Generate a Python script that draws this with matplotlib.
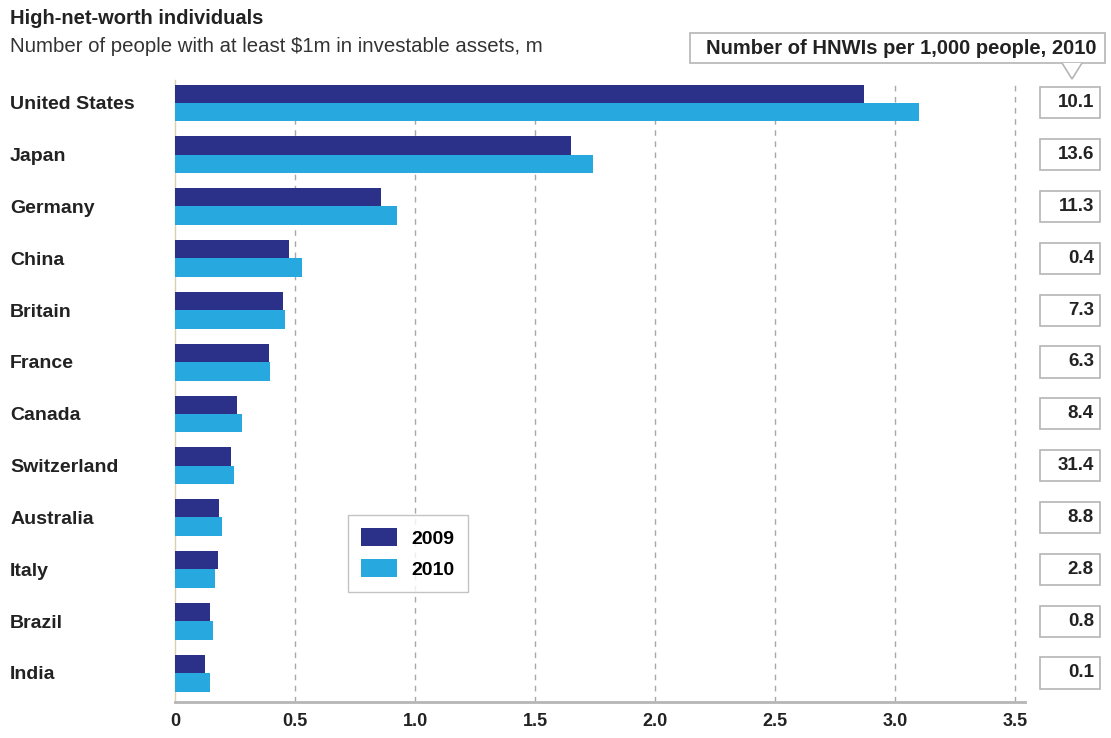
import numpy as np
import matplotlib
matplotlib.use("Agg")
import matplotlib.pyplot as plt
from matplotlib.patches import Rectangle, Polygon
from matplotlib.transforms import blended_transform_factory

plt.rcParams['font.family'] = ['Liberation Sans', 'DejaVu Sans']

countries = ['United States', 'Japan', 'Germany', 'China', 'Britain', 'France',
             'Canada', 'Switzerland', 'Australia', 'Italy', 'Brazil', 'India']
hnwi_2009 = [2.87, 1.65, 0.86, 0.475, 0.45, 0.39, 0.26, 0.233, 0.185, 0.18, 0.146, 0.125]
hnwi_2010 = [3.10, 1.74, 0.925, 0.53, 0.46, 0.395, 0.28, 0.246, 0.195, 0.168, 0.157, 0.146]
per_1000 = ['10.1', '13.6', '11.3', '0.4', '7.3', '6.3', '8.4', '31.4', '8.8', '2.8', '0.8', '0.1']
xticks = [0, 0.5, 1.0, 1.5, 2.0, 2.5, 3.0, 3.5]
xticklabels = ['0', '0.5', '1.0', '1.5', '2.0', '2.5', '3.0', '3.5']

W, H = 1111, 738
dark = '#2b3088'
light = '#27a8df'
grey = '#b5b5b5'
txt = '#222222'

fig = plt.figure(figsize=(W / 100, H / 100), dpi=100)
ax = fig.add_axes([175 / W, 1 - 702 / H, 850 / W, 622 / H])

y = np.arange(len(countries))
ax.barh(y - 0.175, hnwi_2009, height=0.35, color=dark, label='2009', zorder=3)
ax.barh(y + 0.18, hnwi_2010, height=0.36, color=light, label='2010', zorder=3)

ax.set_xlim(0, 3.54)
ax.set_ylim(len(countries) - 0.44, -0.44)
ax.set_xticks(xticks)
ax.set_xticklabels(xticklabels, fontsize=13, fontweight='bold', color=txt)
ax.tick_params(axis='x', length=0, pad=8)
ax.set_yticks(y)
ax.set_yticklabels(countries, fontsize=14, fontweight='bold', color=txt)
ax.tick_params(axis='y', length=0)
for lab in ax.get_yticklabels():
    lab.set_horizontalalignment('left')
    lab.set_x(-160 / 850)

for x in xticks[1:]:
    ax.axvline(x, color='#a8a8a8', lw=1, ls=(0, (4, 4)), zorder=1)

for side in ['top', 'right']:
    ax.spines[side].set_visible(False)
ax.spines['bottom'].set_color(grey)
ax.spines['bottom'].set_linewidth(2)
ax.spines['left'].set_color('#d9cfa8')
ax.spines['left'].set_linewidth(1)

fig.text(10 / W, 1 - 18 / H, 'High-net-worth individuals', fontsize=14.5,
         fontweight='bold', color=txt, va='center')
fig.text(10 / W, 1 - 46 / H, 'Number of people with at least $1m in investable assets, m',
         fontsize=14.7, color='#333333', va='center')

# right-hand boxes
tr = blended_transform_factory(fig.transFigure, ax.transData)
for i, v in enumerate(per_1000):
    ax.add_patch(Rectangle((1040 / W, i - 0.3), 60 / W, 0.6, transform=tr,
                           fill=False, ec=grey, lw=1.2, clip_on=False))
    ax.text(1094 / W, i, v, transform=tr, ha='right', va='center',
            fontsize=13.5, fontweight='bold', color=txt, clip_on=False)

# header box with pointer
fig.patches.append(Rectangle((690 / W, 1 - 63 / H), 415 / W, 30 / H,
                             transform=fig.transFigure, fill=True, fc='white',
                             ec=grey, lw=1.2))
fig.patches.append(Polygon([(1062 / W, 1 - 63 / H), (1072 / W, 1 - 79 / H),
                            (1082 / W, 1 - 63 / H)], closed=False,
                           transform=fig.transFigure, fc='white', ec=grey, lw=1.2))
fig.text(901 / W, 1 - 48 / H, 'Number of HNWIs per 1,000 people, 2010',
         fontsize=14.5, fontweight='bold', color=txt, ha='center', va='center')

fig.legend(loc='upper left', bbox_to_anchor=(338 / W, 1 - 505 / H),
           prop={'weight': 'bold', 'size': 14}, frameon=True,
           fancybox=False, edgecolor=grey, handlelength=1.85, handleheight=1.0,
           labelspacing=0.6, borderpad=0.7, handletextpad=0.7)

fig.savefig('out.png', dpi=100)
